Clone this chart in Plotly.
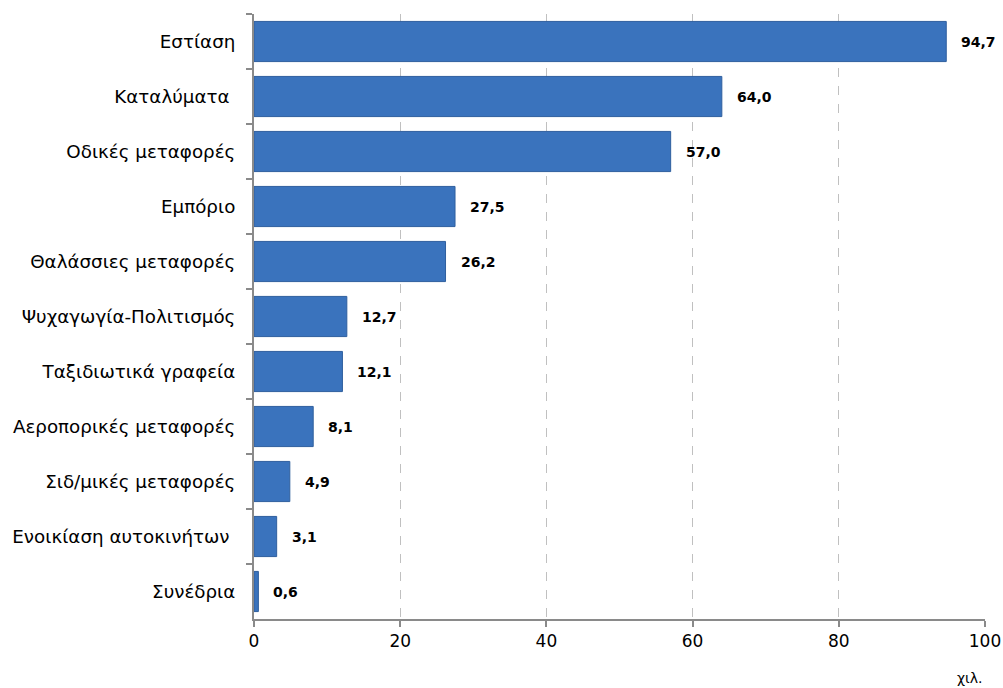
import plotly.graph_objects as go

categories = ["Εστίαση", "Καταλύματα ", "Οδικές μεταφορές", "Εμπόριο", "Θαλάσσιες μεταφορές",
              "Ψυχαγωγία-Πολιτισμός", "Ταξιδιωτικά γραφεία", "Αεροπορικές μεταφορές",
              "Σιδ/μικές μεταφορές", "Ενοικίαση αυτοκινήτων ", "Συνέδρια"]
values = [94.7, 64.0, 57.0, 27.5, 26.2, 12.7, 12.1, 8.1, 4.9, 3.1, 0.6]
x_ticks = [0, 20, 40, 60, 80, 100]
unit_label = "χιλ."

labels = [f"{v:.1f}".replace(".", ",") for v in values]

fig = go.Figure()
fig.add_trace(go.Bar(
    y=categories, x=values, orientation="h",
    marker=dict(color="#3a73bd", line=dict(color="#2f5f9e", width=1)),
    hoverinfo="x+y",
))
for c, v, t in zip(categories, values, labels):
    fig.add_annotation(x=v, y=c, text=f"<b>{t}</b>", showarrow=False,
                       xanchor="left", yanchor="middle", xshift=13,
                       font=dict(family="DejaVu Sans", size=14, color="black"))

fig.update_layout(
    width=1003, height=688,
    margin=dict(l=254, r=18, t=14, b=69, autoexpand=False),
    plot_bgcolor="white", paper_bgcolor="white",
    bargap=0.27, showlegend=False,
    font=dict(family="DejaVu Sans", size=18, color="black"),
)
fig.update_xaxes(
    range=[0, 100], tickvals=x_ticks, ticktext=[str(t) for t in x_ticks],
    showgrid=True, gridcolor="#c0c0c0", griddash="dash", gridwidth=1,
    showline=True, linecolor="#8a8a8a", linewidth=2,
    ticks="outside", ticklen=6, tickcolor="#8a8a8a", tickwidth=2,
    tickfont=dict(size=17), zeroline=False, automargin=False,
    ticklabeloverflow="allow",
)
fig.update_yaxes(
    categoryorder="array", categoryarray=categories, autorange="reversed",
    showline=True, linecolor="#8a8a8a", linewidth=2,
    ticks="outside", ticklen=6, tickcolor="#8a8a8a", tickwidth=2,
    tickson="boundaries", ticklabelstandoff=13,
    tickfont=dict(size=18.3), showgrid=False, automargin=False,
)
fig.add_annotation(text=unit_label, xref="paper", yref="paper", x=0.979, y=-0.0975,
                   showarrow=False, font=dict(size=14), xanchor="center", yanchor="middle")

# remove the default page margin so the figure fills the window exactly
fig.write_html("out.html", config={"displayModeBar": False},
               post_script="document.body.style.margin='0';document.body.style.overflow='hidden';")
